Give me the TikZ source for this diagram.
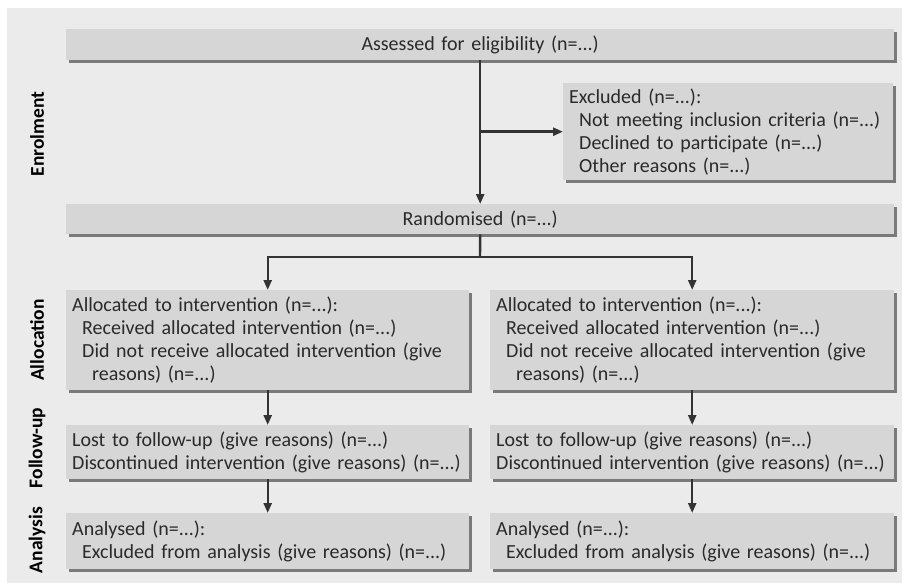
\documentclass[tikz,border=0pt]{standalone}
\usepackage{fontspec}
\setmainfont{Carlito}
\usetikzlibrary{arrows.meta,shadows}
\definecolor{bggray}{HTML}{EBEBEB}
\definecolor{boxgray}{HTML}{D6D6D6}
\definecolor{shadegray}{HTML}{7A7A7A}
\definecolor{linegray}{HTML}{333333}
\definecolor{txtgray}{HTML}{2A2A2A}
\tikzset{
  flowbox/.style={fill=boxgray, anchor=north west, inner xsep=6pt, inner ysep=0pt,
    text=txtgray, font=\fontsize{20}{23}\selectfont, align=left,
    drop shadow={shadow xshift=3pt, shadow yshift=-3pt, fill=shadegray, opacity=1}},
  ctrbox/.style={flowbox, align=center},
  arr/.style={draw=linegray, line width=2.4pt, -{Triangle[length=10pt,width=8pt]}},
  lin/.style={draw=linegray, line width=2.4pt},
  phase/.style={rotate=90, font=\fontsize{19.5}{21}\selectfont\bfseries, text=black}
}
\newcommand{\ind}{\hspace*{10pt}}
\begin{document}
\begin{tikzpicture}[x=1pt,y=-1pt]
\useasboundingbox (0,0) rectangle (902,583);
\fill[bggray] (7,8) rectangle (902,583);

\node[ctrbox, text width=816pt, minimum height=31pt] (assess) at (66,29) {Assessed for eligibility (n=...)};
\node[flowbox, text width=318pt, minimum height=97pt] (excl) at (563,83)
  {Excluded (n=...):\\\ind Not meeting inclusion criteria (n=...)\\\ind Declined to participate (n=...)\\\ind Other reasons (n=...)};
\node[ctrbox, text width=816pt, minimum height=30pt] (rand) at (66,204) {Randomised (n=...)};

\node[flowbox, text width=391pt, minimum height=100pt] (allocL) at (66,290)
  {Allocated to intervention (n=...):\\\ind Received allocated intervention (n=...)\\\ind Did not receive allocated intervention (give\\\ind\ind reasons) (n=...)};
\node[flowbox, text width=392pt, minimum height=100pt] (allocR) at (490,290)
  {Allocated to intervention (n=...):\\\ind Received allocated intervention (n=...)\\\ind Did not receive allocated intervention (give\\\ind\ind reasons) (n=...)};

\node[flowbox, text width=391pt, minimum height=54pt] (fuL) at (66,425)
  {Lost to follow-up (give reasons) (n=...)\\Discontinued intervention (give reasons) (n=...)};
\node[flowbox, text width=392pt, minimum height=54pt] (fuR) at (490,425)
  {Lost to follow-up (give reasons) (n=...)\\Discontinued intervention (give reasons) (n=...)};

\node[flowbox, text width=391pt, minimum height=56pt] (anL) at (66,513)
  {Analysed (n=...):\\\ind Excluded from analysis (give reasons) (n=...)};
\node[flowbox, text width=392pt, minimum height=56pt] (anR) at (490,513)
  {Analysed (n=...):\\\ind Excluded from analysis (give reasons) (n=...)};

\node[phase] (ph1) at (37,134) {Enrolment};
\node[phase] (ph2) at (37,340) {Allocation};
\node[phase] (ph3) at (37,448) {Follow-up};
\node[phase] (ph4) at (37,540) {Analysis};

\draw[arr] (assess.south) -- (rand.north);
\draw[arr] (assess.south |- excl.west) -- (excl.west);
\coordinate (split) at (480,257);
\draw[lin] (rand.south) -- (split);
\draw[arr] (split) -| (allocL.north);
\draw[arr] (split) -| (allocR.north);
\draw[arr] (allocL.south) -- (fuL.north);
\draw[arr] (allocR.south) -- (fuR.north);
\draw[arr] (fuL.south) -- (anL.north);
\draw[arr] (fuR.south) -- (anR.north);
\end{tikzpicture}
\end{document}
